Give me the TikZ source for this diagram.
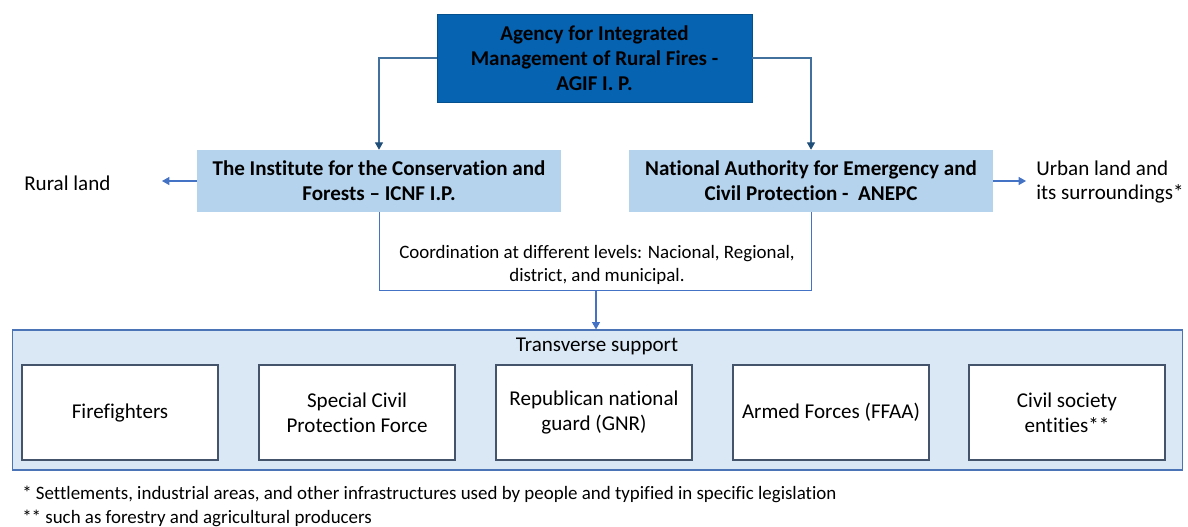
\documentclass[tikz,border=0pt]{standalone}
\usepackage{fontspec}
\setmainfont[Ligatures=NoCommon]{Carlito}
\usetikzlibrary{arrows.meta}
\definecolor{agifblue}{HTML}{0563B1}
\definecolor{lightbox}{HTML}{B5D3EC}
\definecolor{transfill}{HTML}{DAE8F6}
\definecolor{transborder}{HTML}{4A74B5}
\definecolor{innerborder}{HTML}{44546A}
\definecolor{linkblue}{HTML}{4472C4}
\definecolor{darkline}{HTML}{41719C}
\definecolor{darktip}{HTML}{1F4E79}
\tikzset{
  bigtext/.style={font=\fontsize{15.8}{18.6}\selectfont},
  smalltext/.style={font=\fontsize{14.2}{17.4}\selectfont},
  agifbox/.style={fill=agifblue, draw=agifblue!80!black, line width=0.4pt, inner sep=0pt,
     minimum width=236pt, minimum height=66pt, align=center, font=\fontsize{15.8}{18.6}\selectfont\bfseries},
  instbox/.style={fill=lightbox, draw=none, inner sep=0pt, minimum width=273pt, minimum height=46.5pt,
     align=center, font=\fontsize{15.8}{18.6}\selectfont\bfseries},
  transbox/.style={fill=transfill, draw=transborder, line width=0.9pt, inner sep=0pt,
     minimum width=878pt, minimum height=105pt},
  supbox/.style={fill=white, draw=innerborder, line width=1.1pt, inner sep=0pt,
     minimum width=147pt, minimum height=71.25pt, align=center, bigtext},
  toparrow/.style={draw=darkline, line width=0.8pt, -{Triangle[width=6pt,length=5.5pt,color=darktip]}},
  sidearrow/.style={draw=linkblue, line width=0.8pt, -{Triangle[width=6pt,length=5.5pt]}},
  coordline/.style={draw=linkblue, line width=0.6pt},
}
\begin{document}
\begin{tikzpicture}[x=0.75pt, y=-0.75pt]
\useasboundingbox (0,0) rectangle (1188,526);
% top
\node[agifbox] (agif) at (594.5,58) {Agency for Integrated\\Management of Rural Fires -\\AGIF I. P.};
\node[instbox] (icnf) at (379,181) {The Institute for the Conservation and\\Forests – ICNF I.P.};
\node[instbox] (anepc) at (811,181) {National Authority for Emergency and\\Civil Protection -\ \ ANEPC};
\draw[toparrow] (agif.west) -| (icnf.north);
\draw[toparrow] (agif.east) -| (anepc.north);
% side
\node[bigtext, anchor=west, inner sep=0pt] (rural) at (24,183) {Rural land};
\coordinate (ruralend) at (162,181);
\draw[sidearrow] (icnf.west) -- (ruralend);
\node[bigtext, anchor=west, align=left, inner sep=0pt] (urban) at (1036,182) {Urban land and\\its surroundings*};
\coordinate (urbanend) at (1026,181);
\draw[sidearrow] (anepc.east) -- (urbanend);
% coordination
\node[smalltext, align=center, inner sep=0pt] (coord) at (597,265) {Coordination at different levels: Nacional, Regional,\\district, and municipal.};
\coordinate (cmid) at (596,290);
\draw[coordline] (icnf.south) -- (icnf.south |- cmid) -- (anepc.south |- cmid) -- (anepc.south);
% transverse
\node[transbox] (trans) at (597.5,400) {};
\draw[sidearrow] (cmid) -- (cmid |- trans.north);
\node[bigtext, inner sep=0pt] (translabel) at (597,346) {Transverse support};
\node[supbox] (s1) at (120,412.5) {Firefighters};
\node[supbox] (s2) at (357,412.5) {Special Civil\\Protection Force};
\node[supbox] (s3) at (594,412.5) {Republican national\\guard (GNR)};
\node[supbox] (s4) at (831,412.5) {Armed Forces (FFAA)};
\node[supbox] (s5) at (1067,412.5) {Civil society\\entities**};
% footnotes
\node[smalltext, anchor=west, inner sep=0pt] (fn1) at (22,494) {* Settlements, industrial areas, and other infrastructures used by people and typified in specific legislation};
\node[smalltext, anchor=west, inner sep=0pt] (fn2) at (22,518) {** such as forestry and agricultural producers};
\end{tikzpicture}
\end{document}
